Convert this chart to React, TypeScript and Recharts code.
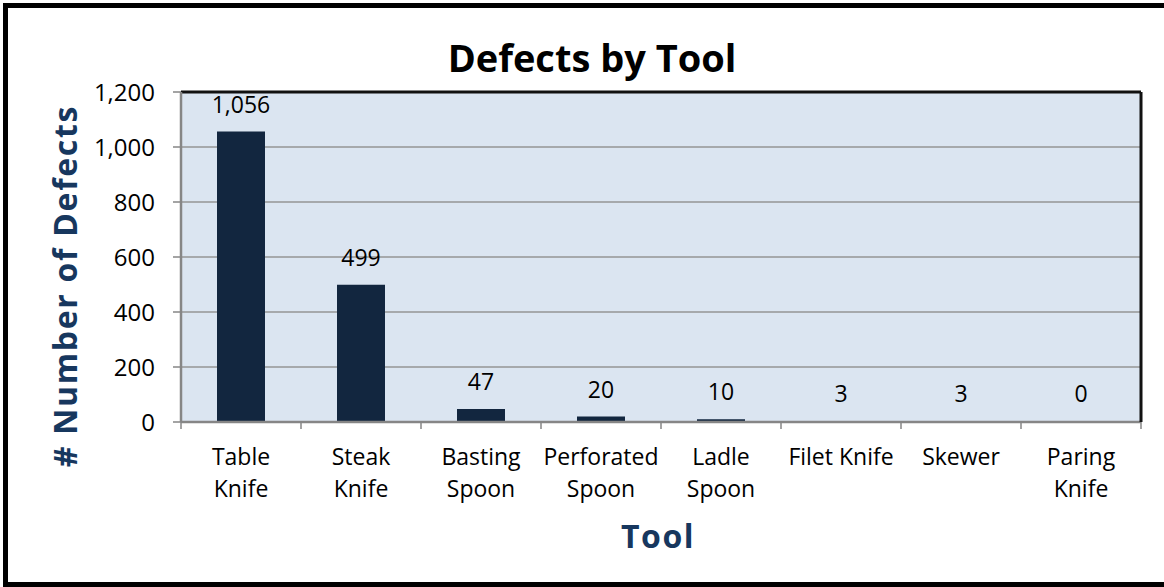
import { BarChart, Bar, XAxis, YAxis, CartesianGrid, LabelList } from 'recharts';

// values
const categories = [
  'Table Knife', 'Steak Knife', 'Basting Spoon', 'Perforated Spoon',
  'Ladle Spoon', 'Filet Knife', 'Skewer', 'Paring Knife',
];
const tickLines = [
  ['Table', 'Knife'], ['Steak', 'Knife'], ['Basting', 'Spoon'], ['Perforated', 'Spoon'],
  ['Ladle', 'Spoon'], ['Filet Knife'], ['Skewer'], ['Paring', 'Knife'],
];
const defects = [1056, 499, 47, 20, 10, 3, 3, 0];
const yTicks = [0, 200, 400, 600, 800, 1000, 1200];

const data = categories.map((name, i) => ({ name, defects: defects[i] }));

const FONT = '"Open Sans", "DejaVu Sans", sans-serif';
const NAVY = '#17375e';
const AXIS_GRAY = '#868686';
const fmt = (v: number) => Number(v).toLocaleString('en-US');

// category label + tick marks on the category boundaries (Excel style)
const ToolTick = ({ x, y, payload }: any) => {
  const idx = categories.indexOf(payload.value);
  const lines = idx >= 0 ? tickLines[idx] : [String(payload.value)];
  const half = payload.offset || 60;
  return (
    <g>
      <line x1={x - half} x2={x - half} y1={y} y2={y + 7} stroke={AXIS_GRAY} strokeWidth={1.5} />
      {idx === categories.length - 1 && (
        <line x1={x + half} x2={x + half} y1={y} y2={y + 7} stroke={AXIS_GRAY} strokeWidth={1.5} />
      )}
      <text x={x} y={y + 43} textAnchor="middle" fontSize={23} fill="#000" fontFamily={FONT}>
        {lines.map((l, i) => (
          <tspan key={i} x={x} dy={i === 0 ? 0 : 32}>{l}</tspan>
        ))}
      </text>
    </g>
  );
};

const App = () => {
  return (
    <div style={{ position: 'absolute', left: 0, top: 0, width: 1164, height: 587, overflow: 'hidden', background: '#fff', fontFamily: FONT }}>
      <div style={{ position: 'absolute', left: 3, top: 3, width: 1180, height: 584, border: '5px solid #000', boxSizing: 'border-box' }} />
      <div style={{ position: 'absolute', left: 0, top: 0 }}>
        <BarChart
          width={1164}
          height={587}
          data={data}
          margin={{ top: 91, right: 22, bottom: 164, left: 81 }}
          barCategoryGap="30%"
        >
          <CartesianGrid vertical={false} fill="#dbe5f1" fillOpacity={1} stroke="#959595" strokeWidth={1.5} />
          <XAxis
            dataKey="name"
            height={1}
            tickSize={0}
            tickMargin={0}
            tickLine={false}
            axisLine={{ stroke: AXIS_GRAY, strokeWidth: 2.5 }}
            interval={0}
            tick={<ToolTick />}
          />
          <XAxis
            xAxisId="top"
            orientation="top"
            dataKey="name"
            height={1}
            tick={false}
            tickLine={false}
            axisLine={{ stroke: '#111', strokeWidth: 3 }}
          />
          <YAxis
            domain={[0, 1200]}
            ticks={yTicks}
            interval={0}
            width={100}
            tickFormatter={fmt}
            tick={{ fill: '#000', fontSize: 24, fontFamily: FONT }}
            tickSize={8}
            tickMargin={18}
            tickLine={{ stroke: AXIS_GRAY, strokeWidth: 1.5 }}
            axisLine={{ stroke: AXIS_GRAY, strokeWidth: 2.5 }}
          />
          <YAxis
            yAxisId="right"
            orientation="right"
            domain={[0, 1200]}
            width={1}
            tick={false}
            tickLine={false}
            axisLine={{ stroke: '#111', strokeWidth: 3 }}
          />
          <Bar dataKey="defects" fill="#12263f" minPointSize={1} isAnimationActive={false}>
            <LabelList
              dataKey="defects"
              position="top"
              offset={19}
              formatter={(v: any) => fmt(v)}
              fill="#000"
              fontSize={23}
              fontFamily={FONT}
            />
          </Bar>
        </BarChart>
      </div>
      <svg width={1164} height={587} style={{ position: 'absolute', left: 0, top: 0, pointerEvents: 'none' }}>
        <text x={592} y={72} textAnchor="middle" fontSize={38} fontWeight={700} fill="#000" fontFamily={FONT}>
          Defects by Tool
        </text>
        <text
          transform="translate(77,286) rotate(-90)"
          textAnchor="middle"
          fontSize={32}
          fontWeight={700}
          letterSpacing={1.7}
          fill={NAVY}
          fontFamily={FONT}
        >
          # Number of Defects
        </text>
        <text x={658} y={548} textAnchor="middle" fontSize={32} fontWeight={700} letterSpacing={1.5} fill={NAVY} fontFamily={FONT}>
          Tool
        </text>
      </svg>
    </div>
  );
};

export default App;
